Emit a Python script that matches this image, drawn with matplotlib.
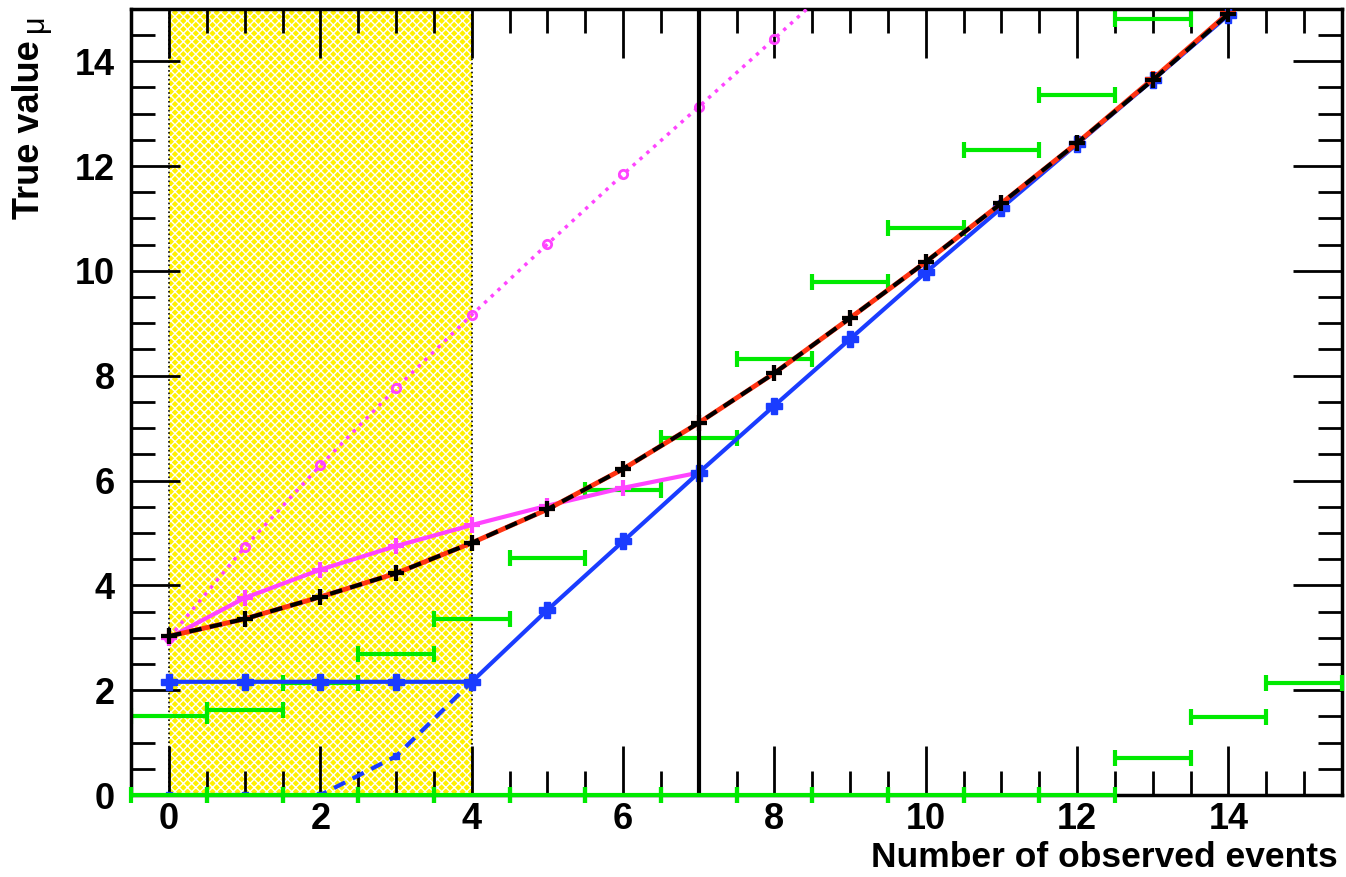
import numpy as np
import matplotlib
matplotlib.use("Agg")
import matplotlib.pyplot as plt
from matplotlib.ticker import MultipleLocator

plt.rcParams.update({
    "font.family": ["Liberation Sans", "DejaVu Sans"],
    "font.weight": "bold",
    "hatch.linewidth": 1.0,
})

# observed counts
n_obs = np.arange(0, 15)

# black dashed / red solid curve
upper_black = [3.03, 3.36, 3.78, 4.23, 4.81, 5.45, 6.22, 7.10, 8.05, 9.10,
               10.17, 11.29, 12.44, 13.64, 14.90]
upper_red = [3.03, 3.36, 3.78, 4.23, 4.81, 5.45, 6.22, 7.10, 8.05, 9.10,
             10.17, 11.29, 12.44, 13.66, 14.92]

# blue solid
upper_blue = [2.16, 2.16, 2.16, 2.16, 2.16, 3.53, 4.84, 6.15, 7.43, 8.70,
              9.97, 11.20, 12.42, 13.64, 14.88]
# blue dashed (lower part)
n_blue_dash = np.arange(0, 5)
lower_blue = [0.0, 0.0, 0.0, 0.74, 2.16]

# magenta solid
n_mag = np.arange(0, 8)
upper_magenta = [3.0, 3.76, 4.30, 4.75, 5.15, 5.52, 5.86, 6.15]
# magenta dotted
n_mag_dot = np.arange(0, 10)
upper_magenta_dot = [3.0, 4.73, 6.29, 7.76, 9.16, 10.51, 11.84, 13.13, 14.43, 15.75]

# green horizontal bars (upper and lower edges)
n_green = np.arange(0, 16)
green_upper = [1.50, 1.63, 2.13, 2.69, 3.36, 4.52, 5.82, 6.82, 8.31, 9.78,
               10.81, 12.30, 13.35, 14.80, 16.2, 17.3]
green_lower = [0, 0, 0, 0, 0, 0, 0, 0, 0, 0, 0, 0, 0, 0.70, 1.49, 2.13]

band_lo, band_hi = 0, 4
vline_x = 7

fig = plt.figure(figsize=(13.46, 8.77), dpi=100)
ax = fig.add_axes([0.0975, 0.0935, 0.8995, 0.8965])

# yellow hatched band
ax.axvspan(band_lo, band_hi, facecolor="#fff000", edgecolor="white",
           hatch="xxxx", linewidth=0, zorder=0)
ax.axvspan(band_lo, band_hi, facecolor="none", edgecolor="black",
           linestyle=":", linewidth=1.2, zorder=0.5)

c_green = "#00ea00"
ax.errorbar(n_green, green_upper, xerr=0.5, fmt="none", ecolor=c_green,
            elinewidth=3, capsize=6, capthick=3, zorder=2)
eb = ax.errorbar(n_green, green_lower, xerr=0.5, fmt="none", ecolor=c_green,
                 elinewidth=3, capsize=6, capthick=3, zorder=8)
for art in eb.lines[1] + eb.lines[2]:
    art.set_clip_on(False)

ax.plot(n_mag_dot, upper_magenta_dot, ":", color="#ff44ff", lw=2.5,
        marker="o", ms=6, mfc="none", mew=2, zorder=3)
ax.plot(n_mag, upper_magenta, "-", color="#ff44ff", lw=3,
        marker="+", ms=11, mew=3, zorder=3)

ax.plot(n_blue_dash, lower_blue, "--", color="#1a3cff", lw=3,
        marker="s", ms=5, dashes=(3, 2), zorder=4)
ax.plot(n_obs, upper_blue, "-", color="#1a3cff", lw=3,
        marker="P", ms=11, zorder=4)

ax.plot(n_obs, upper_red, "-", color="#ff3311", lw=3.5,
        marker="+", ms=12, mew=3, zorder=5)
ax.plot(n_obs, upper_black, "--", color="black", lw=3,
        marker="+", ms=12, mew=3, dashes=(3, 2), zorder=6)

ax.axvline(vline_x, color="black", lw=3, zorder=7)

ax.set_xlim(-0.5, 15.5)
ax.set_ylim(0, 15)
ax.xaxis.set_major_locator(MultipleLocator(2))
ax.xaxis.set_minor_locator(MultipleLocator(0.5))
ax.yaxis.set_major_locator(MultipleLocator(2))
ax.yaxis.set_minor_locator(MultipleLocator(0.5))
ax.tick_params(which="both", direction="in", top=True, right=True,
               width=2, labelsize=26)
ax.tick_params(which="major", length=35)
ax.tick_params(which="minor", length=17)
ax.tick_params(axis="x", pad=5)
ax.tick_params(axis="y", pad=12)
for lab in ax.get_xticklabels() + ax.get_yticklabels():
    lab.set_fontweight("bold")
for sp in ax.spines.values():
    sp.set_linewidth(2.5)

fig.text(0.994, 0.0114, "Number of observed events", ha="right", va="baseline",
         fontsize=25.5, fontweight="bold")
fig.text(0.022, 0.954, "True value", ha="center", va="top",
         rotation=90, fontsize=26, fontweight="bold")
fig.text(0.026, 0.984, "μ", ha="center", va="top",
         rotation=90, fontsize=22, fontweight="normal")

fig.savefig("out.png", dpi=100, facecolor="white")
